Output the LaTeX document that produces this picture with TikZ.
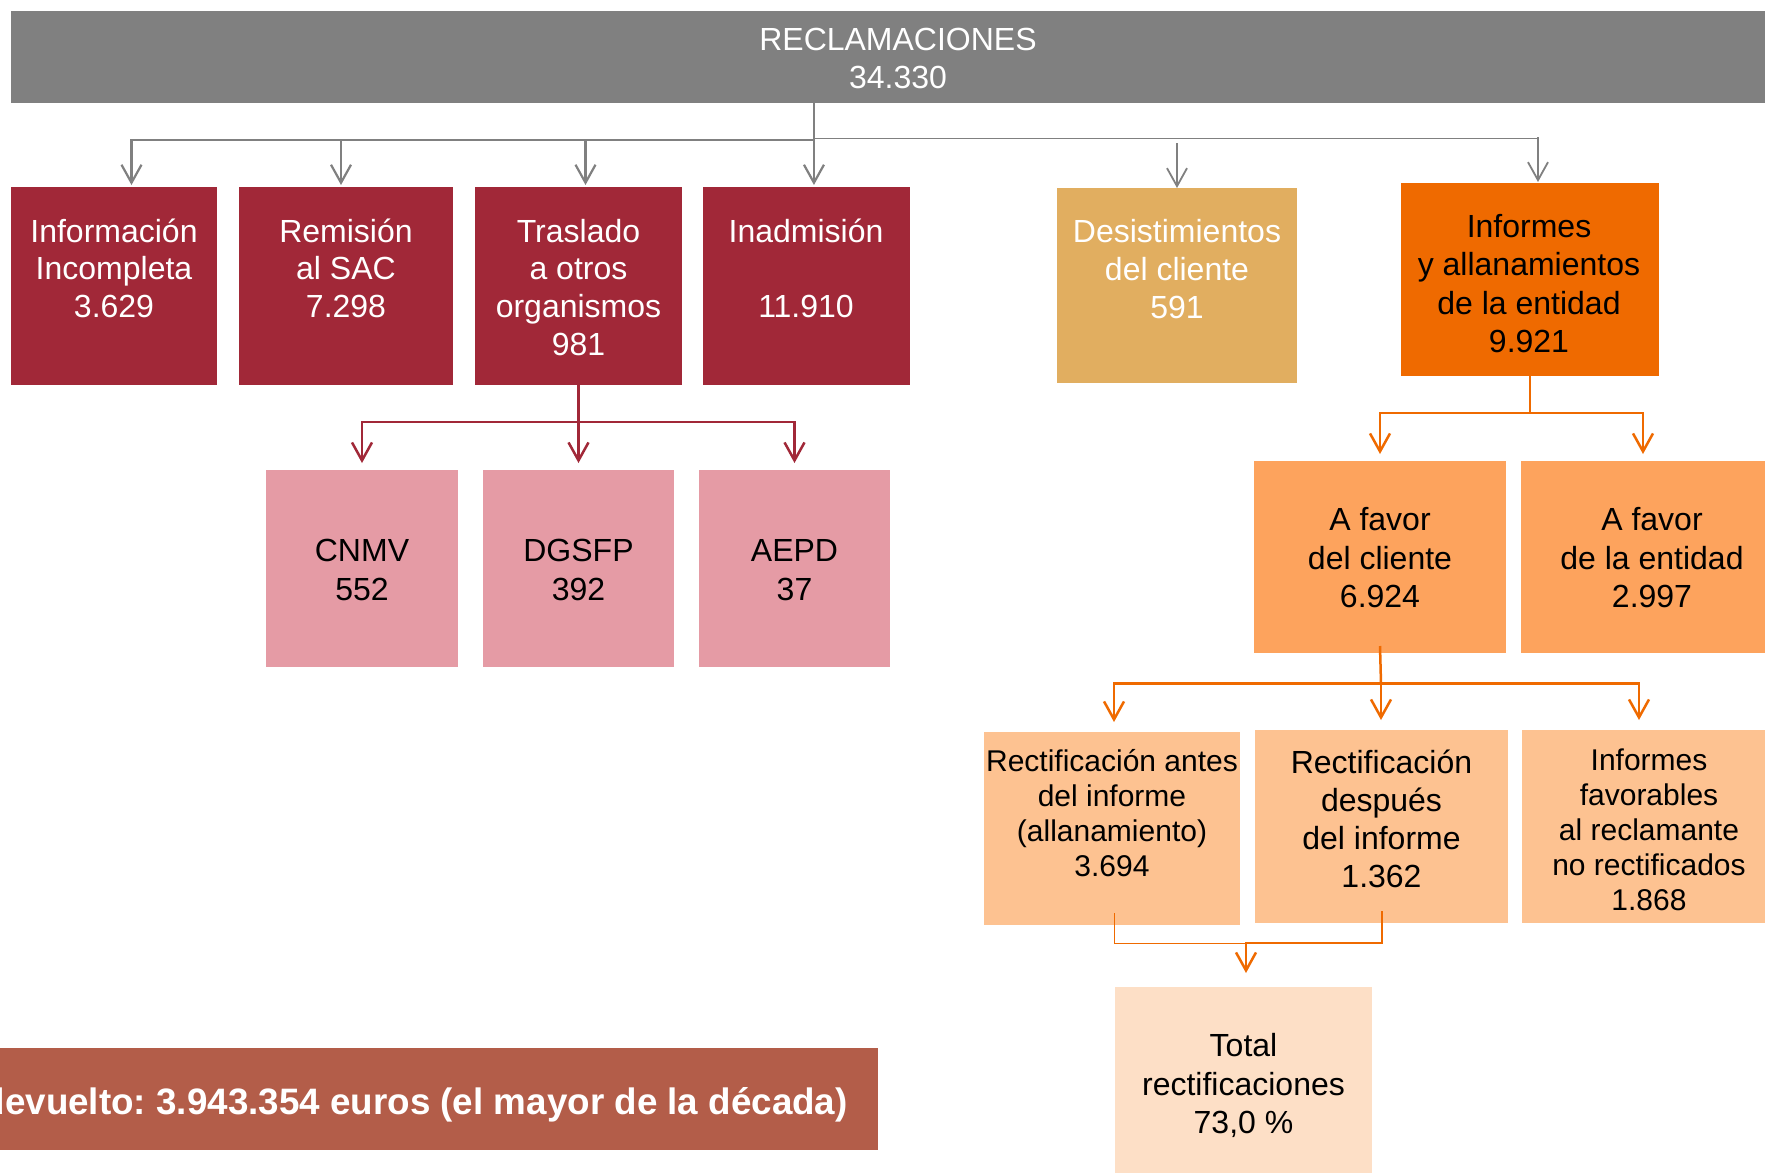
\documentclass[tikz,border=0pt]{standalone}
\usepackage{fontspec}
\setmainfont{Liberation Sans}
\usetikzlibrary{arrows.meta,fit}
\frenchspacing

\definecolor{cgray}{HTML}{808080}
\definecolor{cred}{HTML}{A12838}
\definecolor{cpink}{HTML}{E59BA5}
\definecolor{cdesist}{HTML}{E1AE60}
\definecolor{corange}{HTML}{EF6A00}
\definecolor{cfavor}{HTML}{FDA35D}
\definecolor{crect}{HTML}{FDC291}
\definecolor{ctotal}{HTML}{FDDFC6}
\definecolor{cbar}{HTML}{B35D49}

% centred block of lines whose first baseline sits on the node's base anchor
\newcommand{\boxlines}[1]{\parbox[t]{320pt}{\centering #1}}

\tikzset{
  box/.style={inner sep=0pt, outer sep=0pt, draw=none},
  txt/.style={anchor=base, inner sep=0pt, outer sep=0pt},
  fbig/.style={font=\fontsize{32}{#1}\selectfont},
  fsmall/.style={font=\fontsize{30}{#1}\selectfont},
  tip/.style={-{Straight Barb[length=18pt,width=20pt]}},
  gline/.style={draw=cgray, line width=2.2pt},
  gthin/.style={draw=cgray, line width=1.2pt},
  rline/.style={draw=cred, line width=2.5pt},
  oline/.style={draw=corange, line width=2.5pt},
  othin/.style={draw=corange, line width=1pt},
}

\begin{document}
\begin{tikzpicture}[x=1pt, y=-1pt]
\useasboundingbox (0,0) rectangle (1765,1173);
\fill[white] (0,0) rectangle (1765,1173);
\clip (0,0) rectangle (1765,1173);

% ---- top level
\node[box, fill=cgray, fit={(11,11) (1785,102.5)}] (recl) {};
\node[txt, fbig=38, text=white] (reclT) at (898,50) {\boxlines{RECLAMACIONES\\34.330}};

% ---- first level
\node[box, fill=cred, fit={(11,187) (217,385)}] (info) {};
\node[box, fill=cred, fit={(239,187) (453,385)}] (remi) {};
\node[box, fill=cred, fit={(475,187) (682,385)}] (tras) {};
\node[box, fill=cred, fit={(703,187) (909.5,385)}] (inad) {};
\node[box, fill=cdesist, fit={(1057,188) (1297,383)}] (desist) {};
\node[box, fill=corange, fit={(1401,183) (1659,376)}] (inf) {};

\node[txt, fbig=37.8, text=white] (infoT) at (114,242) {\boxlines{Información\\Incompleta\\3.629}};
\node[txt, fbig=37.8, text=white] (remiT) at (346,242) {\boxlines{Remisión\\al SAC\\7.298}};
\node[txt, fbig=37.8, text=white] (trasT) at (578.5,242) {\boxlines{Traslado\\a otros\\organismos\\981}};
\node[txt, fbig=37.8, text=white] (inadT) at (806,242) {\boxlines{Inadmisión\\\mbox{}\\11.910}};
\node[txt, fbig=38, text=white] (desistT) at (1177,242.7) {\boxlines{Desistimientos\\del cliente\\591}};
\node[txt, fbig=38.6, text=black] (infT) at (1529,237) {\boxlines{Informes\\y allanamientos\\de la entidad\\9.921}};

% ---- organismos
\node[box, fill=cpink, fit={(266,470) (458,667)}] (cnmv) {};
\node[box, fill=cpink, fit={(483,470) (674,667)}] (dgsfp) {};
\node[box, fill=cpink, fit={(699,470) (890,667)}] (aepd) {};
\node[txt, fbig=38.5] (cnmvT) at (362,561.7) {\boxlines{CNMV\\552}};
\node[txt, fbig=38.5] (dgsfpT) at (578.5,561.7) {\boxlines{DGSFP\\392}};
\node[txt, fbig=38.5] (aepdT) at (794.5,561.7) {\boxlines{AEPD\\37}};

% ---- resultado de los informes
\node[box, fill=cfavor, fit={(1254,461) (1506,653)}] (fcli) {};
\node[box, fill=cfavor, fit={(1521,461) (1775,653)}] (fent) {};
\node[txt, fbig=38.5] (fcliT) at (1380,530.7) {\boxlines{A favor\\del cliente\\6.924}};
\node[txt, fbig=38.5] (fentT) at (1652,530.7) {\boxlines{A favor\\de la entidad\\2.997}};

\node[box, fill=crect, fit={(984,732) (1240,925)}] (rantes) {};
\node[box, fill=crect, fit={(1255,730) (1508,923)}] (rdesp) {};
\node[box, fill=crect, fit={(1522,730) (1775,923)}] (ifav) {};
\node[txt, fsmall=35] (rantesT) at (1112,771.7) {\boxlines{Rectificación antes\\del informe\\(allanamiento)\\3.694}};
\node[txt, fbig=38.3] (rdespT) at (1381.5,773) {\boxlines{Rectificación\\después\\del informe\\1.362}};
\node[txt, fsmall=35] (ifavT) at (1649,770) {\boxlines{Informes\\favorables\\al reclamante\\no rectificados\\1.868}};

\node[box, fill=ctotal, fit={(1115,987) (1372,1180)}] (total) {};
\node[txt, fbig=38.3] (totalT) at (1243.5,1056.7) {\boxlines{Total\\rectificaciones\\73,0 \%}};

% ---- importe devuelto
\node[box, fill=cbar, fit={(-10,1048) (878,1150)}] (bar) {};
\node[anchor=base east, inner sep=0pt, text=white, font=\fontsize{36.8}{40}\selectfont\bfseries] (barT) at (848,1114) {devuelto: 3.943.354 euros (el mayor de la década)};

% ---- arrow entry points on the boxes
\coordinate (infoIn) at ([xshift=17.5pt]info.north);
\coordinate (remiIn) at ([xshift=-5pt]remi.north);
\coordinate (trasIn) at ([xshift=7pt]tras.north);
\coordinate (inadIn) at ([xshift=7.7pt]inad.north);
\coordinate (infIn) at ([xshift=8pt]inf.north);
\coordinate (fentIn) at ([xshift=-5pt]fent.north);
\coordinate (rantesIn) at ([xshift=2pt]rantes.north);
\coordinate (ifavIn) at ([xshift=-9.5pt]ifav.north);
\coordinate (rantesOut) at ([xshift=2pt,yshift=12pt]rantes.south);
\coordinate (rdespOut) at ([xshift=0.5pt,yshift=12pt]rdesp.south);
\coordinate (fcliOut) at ([yshift=7pt]fcli.south);

% ---- connectors from the top box
\coordinate (gbus) at (814,140);
\coordinate (gbus2) at (814,138.3);
\draw[gline] (gbus |- recl.south) -- (gbus);
\draw[gline] (infoIn |- gbus) -- (gbus);
\draw[gline, tip, shorten >=2pt] (gbus) -| (infoIn);
\draw[gline, tip, shorten >=2pt] (gbus) -| (remiIn);
\draw[gline, tip, shorten >=2pt] (gbus) -| (trasIn);
\draw[gline, tip, shorten >=2pt] (gbus) -| (inadIn);
\draw[gthin] (gbus2) -- (infIn |- gbus2);
\draw[gline, line width=1.8pt, tip, shorten >=1pt] ([yshift=1pt]infIn |- gbus2) -- (infIn);
\draw[gline, line width=1.8pt, tip] ([yshift=-5pt]desist.north |- gbus2) -- (desist.north);

% ---- traslado a otros organismos
\coordinate (rbus) at (578.5,422);
\draw[rline] (tras.south) -- (rbus);
\draw[rline, tip, shorten >=7pt] (rbus) -| (cnmv.north);
\draw[rline, tip, shorten >=7pt] (rbus) -- (dgsfp.north);
\draw[rline, tip, shorten >=7pt] (rbus) -| (aepd.north);

% ---- informes
\coordinate (obus) at (1530,413);
\draw[oline] (inf.south) -- (obus);
\draw[oline, tip, shorten >=7pt] (obus) -| (fcli.north);
\draw[oline, tip, shorten >=7pt] (obus) -| (fentIn);

\coordinate (obus2) at (1381,683.5);
\draw[oline] (fcliOut) -- (obus2);
\draw[oline, tip, shorten >=10pt] (obus2) -| (rantesIn);
\draw[oline, tip, shorten >=10pt] (obus2) -- (obus2 |- rdesp.north);
\draw[oline, tip, shorten >=10pt] (obus2) -| (ifavIn);

% ---- total de rectificaciones
\coordinate (tbus) at (1246,943);
\draw[othin] (rantesOut) |- (tbus);
\draw[oline, tip, shorten >=14pt] (rdespOut) |- (tbus) -- (tbus |- total.north);
\end{tikzpicture}
\end{document}
